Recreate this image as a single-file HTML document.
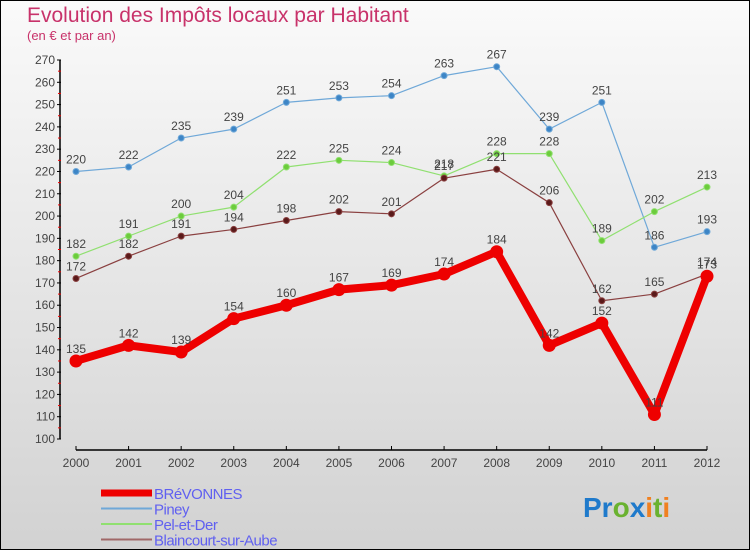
<!DOCTYPE html>
<html><head><meta charset="utf-8"><style>
html,body{margin:0;padding:0}
body{width:750px;height:550px;overflow:hidden;font-family:"Liberation Sans",sans-serif}
#wrap{position:relative;width:748px;height:548px;border:1px solid #000;background:linear-gradient(#fafafa,#d2d2d2)}
.t{position:absolute;color:#c8326a}
</style></head><body>
<div id="wrap">
<div class="t" style="left:26px;top:3px;font-size:21px">Evolution des Impôts locaux par Habitant</div>
<div class="t" style="left:26px;top:27px;font-size:13px">(en € et par an)</div>
<svg id="svg" width="748" height="548" style="position:absolute;left:0;top:0"></svg>
</div>
<script>
const years=["2000","2001","2002","2003","2004","2005","2006","2007","2008","2009","2010","2011","2012"];
const yTicks=[100,110,120,130,140,150,160,170,180,190,200,210,220,230,240,250,260,270];
const brevonnes=[135,142,139,154,160,167,169,174,184,142,152,111,173];
const piney=[220,222,235,239,251,253,254,263,267,239,251,186,193];
const pel=[182,191,200,204,222,225,224,218,228,228,189,202,213];
const blain=[172,182,191,194,198,202,201,217,221,206,162,165,174];
const NS="http://www.w3.org/2000/svg";
const svg=document.getElementById('svg');
function x(i){return 75+i*(631/12);}
function y(v){return 438-(v-100)*(379/170);}
function el(tag,attrs,parent){const e=document.createElementNS(NS,tag);for(const k in attrs)e.setAttribute(k,attrs[k]);(parent||svg).appendChild(e);return e;}
let a=el('line',{x1:59,y1:y(270),x2:59,y2:y(100),stroke:'#000','stroke-width':1.5});


let b=el('line',{x1:75,y1:449,x2:706,y2:449,stroke:'#000','stroke-width':1.5});


yTicks.forEach(v=>{
  el('line',{x1:56,y1:y(v),x2:60,y2:y(v),stroke:'#000'});
  if(v<270) el('line',{x1:57,y1:y(v+5),x2:60,y2:y(v+5),stroke:'#e00'});
  const t=el('text',{x:54,y:y(v)+4,'text-anchor':'end','font-size':12,fill:'#444'});
  t.textContent=v;
  
  
});
years.forEach((yr,i)=>{
  el('line',{x1:x(i),y1:445,x2:x(i),y2:449,stroke:'#000'});
  const t=el('text',{x:x(i),y:466,'text-anchor':'middle','font-size':12,fill:'#444'});
  t.textContent=yr;
  
  
});
function series(data,color,w,r,name,dot){
  const p=el('polyline',{points:data.map((v,i)=>x(i)+','+y(v)).join(' '),fill:'none',stroke:color,'stroke-width':w,'stroke-linejoin':'round'});
  
  
  data.forEach((v,i)=>{
    const c=el('circle',{cx:x(i),cy:y(v),r:r,fill:dot,stroke:color,'stroke-width':1});
    
    
    const t=el('text',{x:x(i),y:y(v)-8,'text-anchor':'middle','font-size':12,fill:'#444'});
    t.textContent=v;
    
    
  });
}
series(piney,'#6fa8d8',1.2,3,'piney','#3d85c6');
series(pel,'#90e070',1.2,3,'pel-et-der','#6ccc3c');
series(blain,'#8a4040',1.2,3,'blaincourt','#5a1a1a');
series(brevonnes,'#ee0000',8,6,'brevonnes','#ee0000');
const leg=[['BRéVONNES','#ee0000',7],['Piney','#6fa8d8',2],['Pel-et-Der','#90e070',2],['Blaincourt-sur-Aube','#a06868',2]];
leg.forEach((l,i)=>{
  const ly=492+i*15.5;
  const g=el('g',{});
  
  
  el('line',{x1:100,y1:ly,x2:151,y2:ly,stroke:l[1],'stroke-width':l[2]},g);
  const t=el('text',{x:153,y:ly+6,'font-size':15,fill:'#6060f0','letter-spacing':'-0.5'},g);
  t.textContent=l[0];
});
const logo=el('text',{x:582,y:516,'font-size':28,'font-weight':'bold'});


[['Pr','#1f7acb'],['o','#6ab230'],['x','#1f7acb'],['i','#f08020'],['t','#6ab230'],['i','#f08020']].forEach(s=>{const ts=el('tspan',{fill:s[1]},logo);ts.textContent=s[0];});
</script>
</body></html>
